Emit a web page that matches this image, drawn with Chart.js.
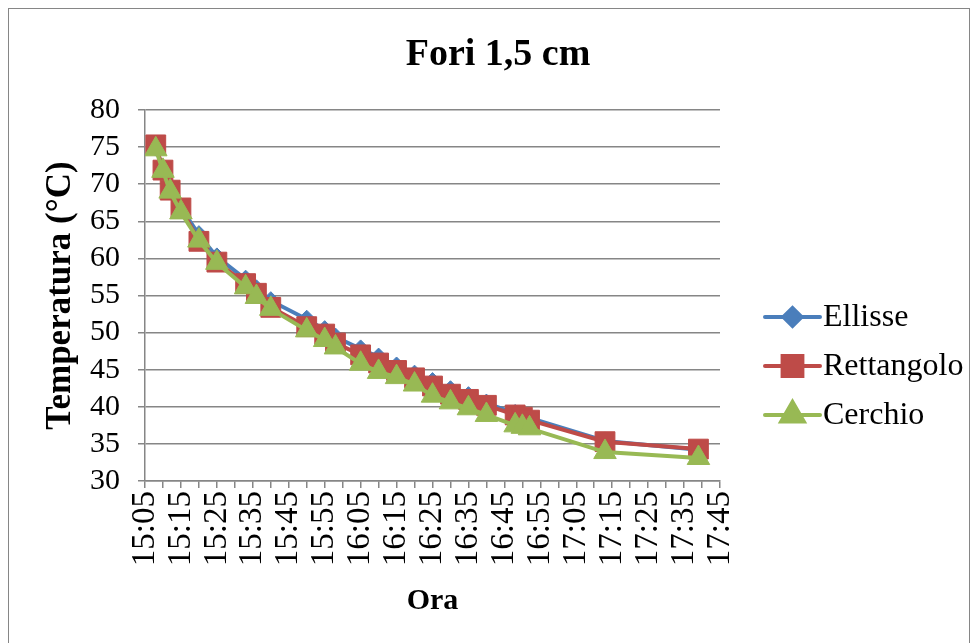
<!DOCTYPE html>
<html>
<head>
<meta charset="utf-8">
<script src="https://cdn.jsdelivr.net/npm/chart.js@4"></script>
<style>
  body { margin: 0; background: #fff; }
  #box { width: 977px; height: 643px; }
</style>
</head>
<body>
<div id="box"><canvas id="grafico"></canvas></div>
<script>
// Fori 1,5 cm - temperatura nel tempo
const orari = ['15:08','15:10','15:12','15:15','15:20','15:25','15:33','15:36','15:40','15:50','15:55','15:58',
  '16:05','16:10','16:15','16:20','16:25','16:30','16:35','16:40','16:48','16:50','16:52','17:13','17:39'];
const ellisse = [75.0,72.0,69.6,66.8,63.2,60.2,57.2,55.9,54.3,51.8,50.4,49.4,47.8,46.7,45.5,44.4,43.4,42.3,41.5,40.5,39.1,38.9,38.5,35.4,34.2];
const rettangolo = [75.3,71.9,69.2,66.8,62.3,59.5,56.6,55.3,53.4,50.8,49.8,48.6,47.0,45.9,44.9,43.9,42.8,41.7,41.0,40.2,38.9,38.6,38.2,35.3,34.3];
const cerchio = [74.7,71.8,69.0,66.2,62.4,59.4,56.1,54.8,53.2,50.3,49.0,48.0,45.8,44.7,44.0,43.0,41.5,40.6,39.8,38.9,37.5,37.3,37.1,33.9,33.1];
const nomiSerie = ['Ellisse', 'Rettangolo', 'Cerchio'];
const titolo = 'Fori 1,5 cm';
const asseMin = '15:05', asseMax = '17:45';

const minuti = s => { const p = s.split(':'); return (+p[0]) * 60 + (+p[1]); };
const hhmm = m => Math.floor(m / 60) + ':' + String(m % 60).padStart(2, '0');
const punti = arr => arr.map((v, i) => ({ x: minuti(orari[i]), y: v }));

const FONT = '"Liberation Serif", "Times New Roman", serif';
const GRIGIO = '#868686';

const stili = [
  { colore: '#4A7EBB', forma: 'rectRot', r: 9 },
  { colore: '#BE4B48', forma: 'rect', r: 14 },
  { colore: '#98B954', forma: 'triangle', r: 13 }
];
const valori = [ellisse, rettangolo, cerchio];

const datasets = valori.map((v, i) => ({
  label: nomiSerie[i],
  data: punti(v),
  borderColor: stili[i].colore,
  backgroundColor: stili[i].colore,
  borderWidth: 4,
  pointStyle: stili[i].forma,
  pointRadius: stili[i].r,
  pointHoverRadius: stili[i].r,
  pointBorderWidth: 1,
  order: 3 - i,
  tension: 0
}));

// bordo, titolo e legenda
const decorazioni = {
  id: 'decorazioni',
  beforeDraw(chart) {
    const ctx = chart.ctx;
    ctx.save();
    ctx.fillStyle = '#fff';
    ctx.fillRect(0, 0, chart.width, chart.height);
    ctx.strokeStyle = GRIGIO;
    ctx.lineWidth = 1;
    ctx.strokeRect(8.5, 8.5, 961, 700);
    ctx.restore();
  },
  afterDraw(chart) {
    const ctx = chart.ctx;
    const area = chart.chartArea;
    ctx.save();
    ctx.fillStyle = '#000';
    ctx.font = 'bold 38px ' + FONT;
    ctx.textAlign = 'center';
    ctx.textBaseline = 'middle';
    ctx.fillText(titolo, 498, 55);

    ctx.font = '32px ' + FONT;
    ctx.textAlign = 'left';
    chart.data.datasets.forEach((ds, i) => {
      const y = area.top + 207 + 49 * i;
      const x0 = area.right + 45, x1 = area.right + 100;
      ctx.strokeStyle = ds.borderColor;
      ctx.fillStyle = ds.borderColor;
      ctx.lineWidth = 4;
      ctx.lineCap = 'round';
      ctx.beginPath(); ctx.moveTo(x0, y); ctx.lineTo(x1, y); ctx.stroke();
      Chart.helpers.drawPoint(ctx, { pointStyle: ds.pointStyle, radius: ds.pointRadius, rotation: 0, borderWidth: 1 }, (x0 + x1) / 2, y);
      ctx.fillStyle = '#000';
      ctx.fillText(ds.label, area.right + 103, y + 1);
    });
    ctx.restore();
  }
};

new Chart(document.getElementById('grafico'), {
  type: 'line',
  data: { datasets },
  options: {
    responsive: true,
    maintainAspectRatio: false,
    animation: false,
    layout: { padding: { left: 10, top: 110, right: 257, bottom: 10 } },
    plugins: { legend: { display: false }, title: { display: false }, tooltip: { enabled: false } },
    scales: {
      x: {
        type: 'linear',
        min: minuti(asseMin),
        max: minuti(asseMax),
        afterFit: s => { s.height = 152; },
        border: { color: GRIGIO, width: 1.5 },
        grid: { drawOnChartArea: false, drawTicks: true, tickLength: 7, color: GRIGIO, lineWidth: 1.5 },
        ticks: {
          stepSize: 5,
          autoSkip: false,
          minRotation: 90,
          maxRotation: 90,
          padding: 3,
          color: '#000',
          font: { family: FONT, size: 33 },
          callback: v => ((v - minuti(asseMin)) % 10 === 0 ? hhmm(v) : '')
        },
        title: { display: true, text: 'Ora', color: '#000', font: { family: FONT, size: 30, weight: 'bold' }, padding: { top: 0, bottom: 14 } }
      },
      y: {
        min: 30,
        max: 80,
        afterFit: s => { s.width = 135; },
        border: { color: GRIGIO, width: 1.5 },
        grid: { color: GRIGIO, lineWidth: 1.5, tickLength: 7 },
        ticks: { stepSize: 5, autoSkip: false, padding: 18, color: '#000', font: { family: FONT, size: 30 } },
        title: { display: true, text: 'Temperatura (°C)', color: '#000', font: { family: FONT, size: 35, weight: 'bold' }, padding: { top: 30, bottom: 0 } }
      }
    }
  },
  plugins: [decorazioni]
});
</script>
</body>
</html>
